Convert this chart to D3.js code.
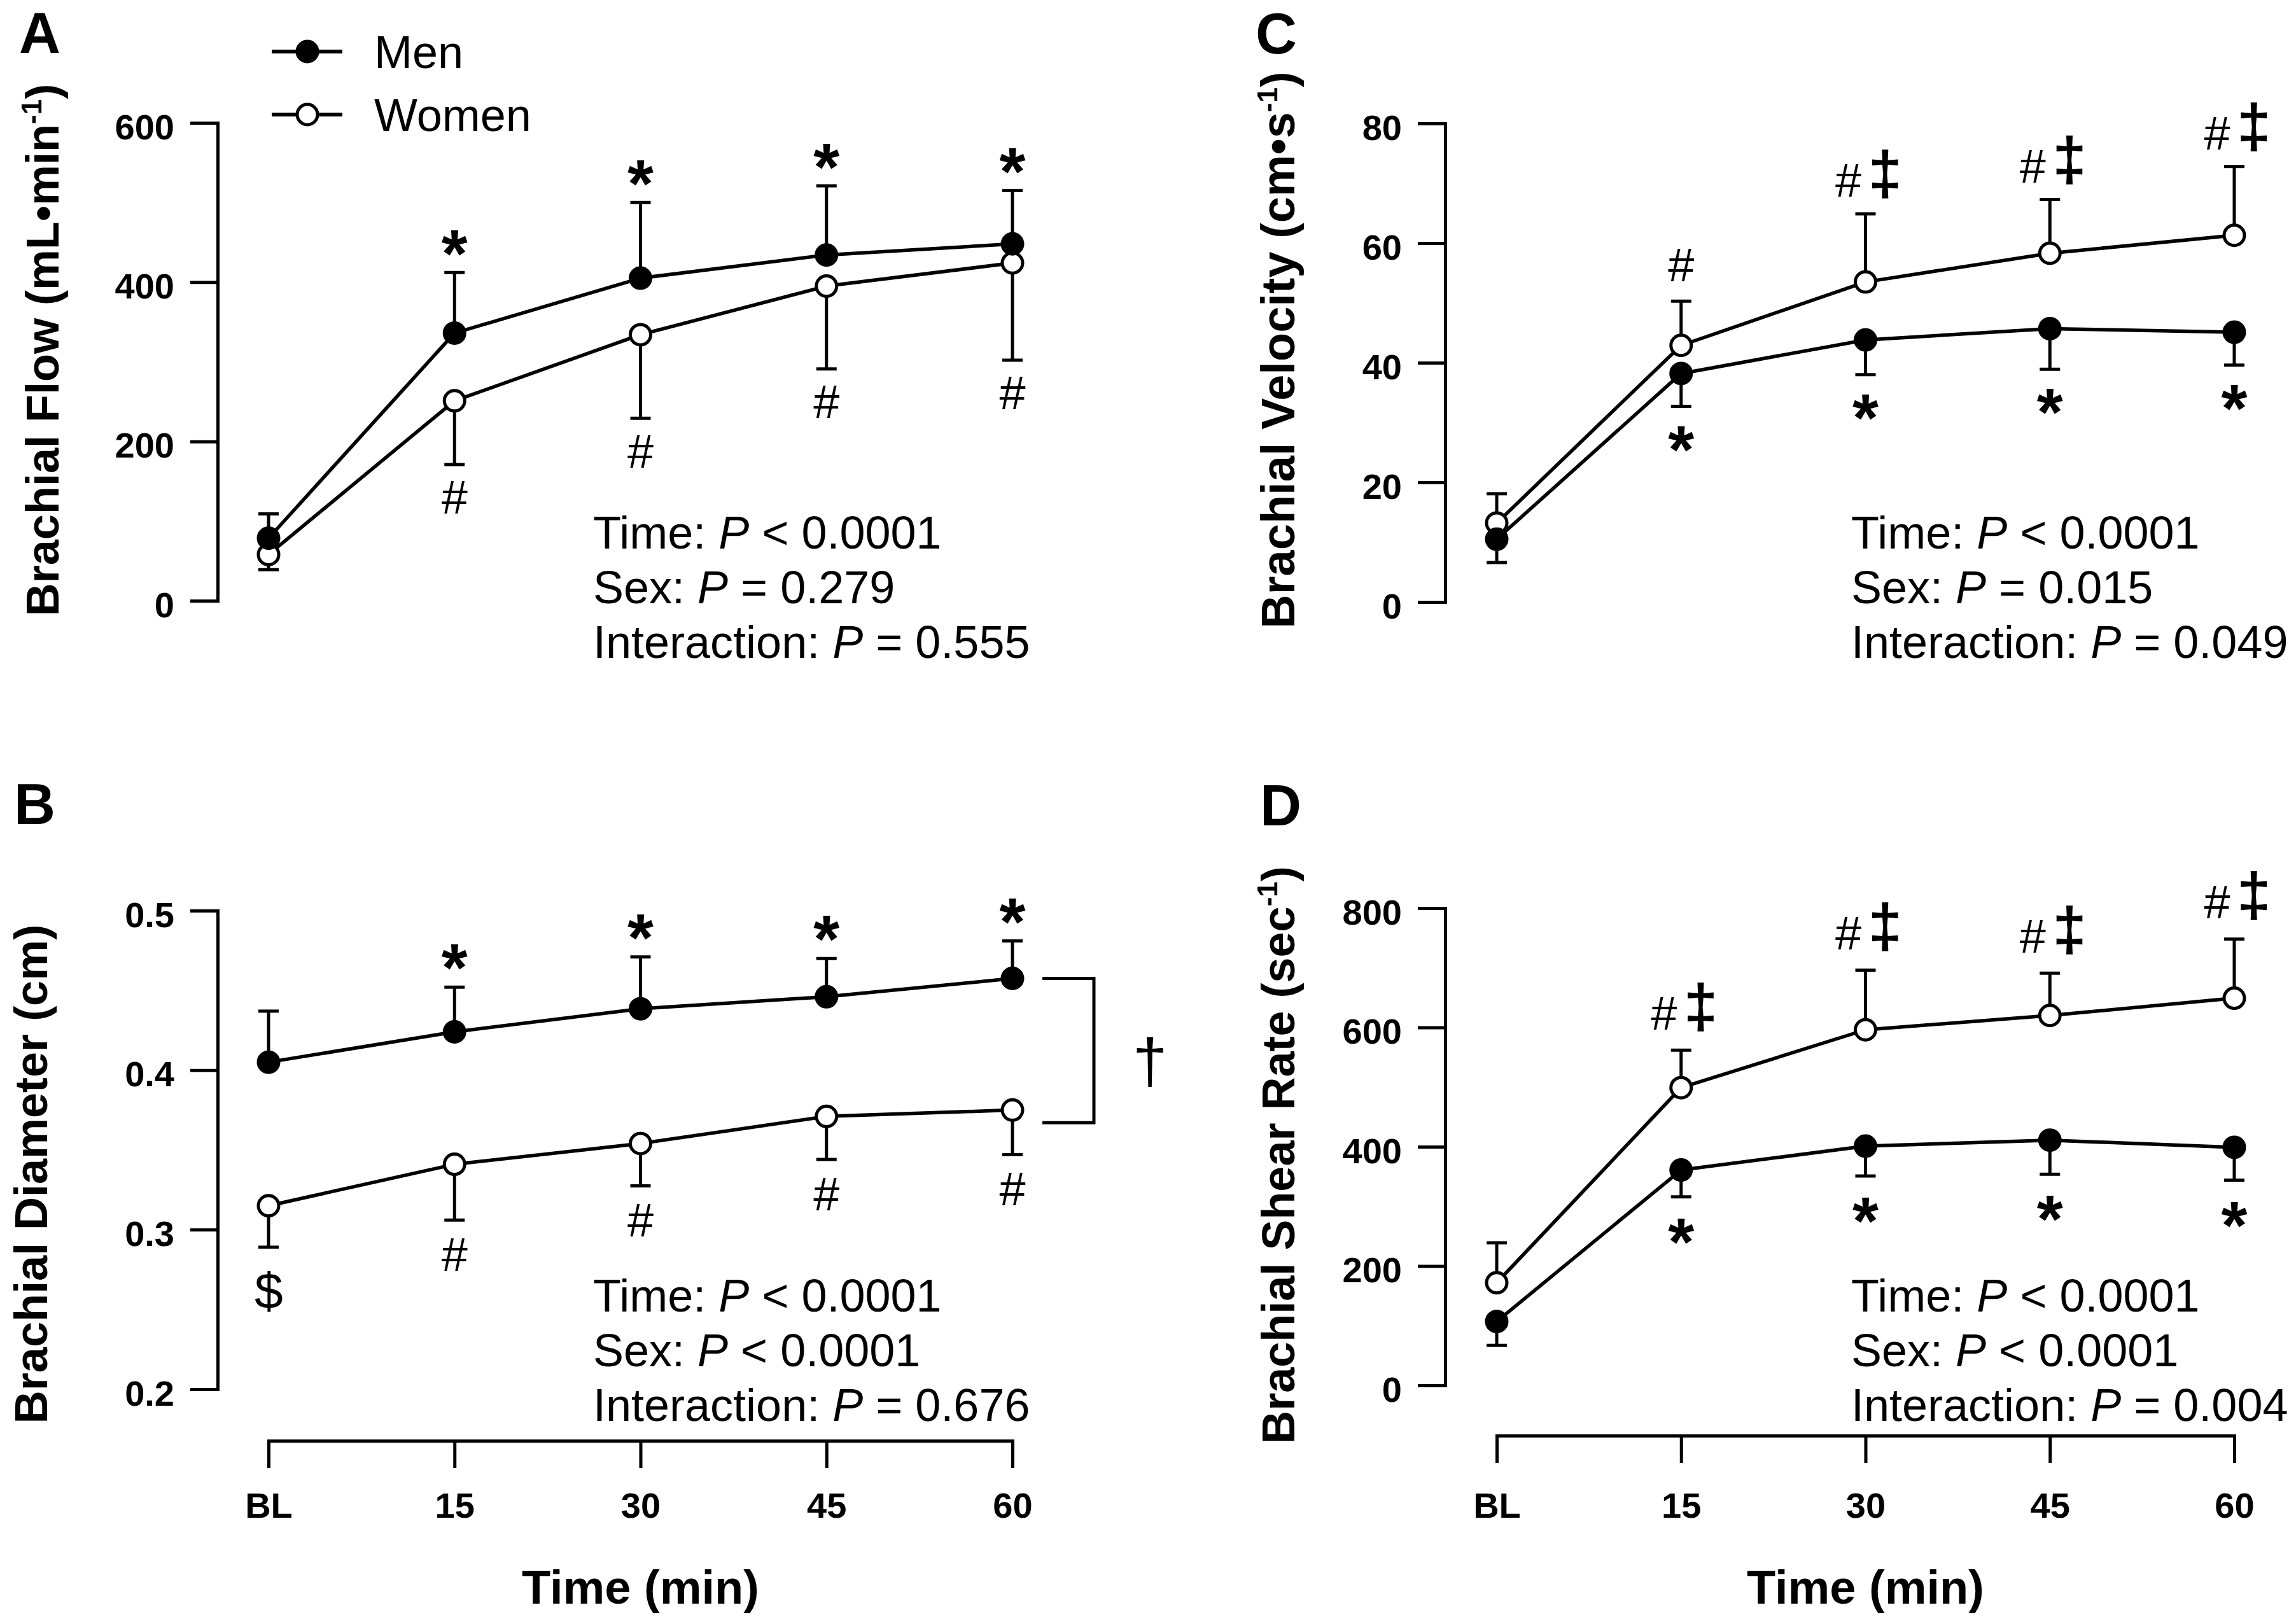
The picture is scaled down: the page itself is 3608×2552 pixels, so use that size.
<!DOCTYPE html>
<html>
<head>
<meta charset="utf-8">
<script src="https://cdn.jsdelivr.net/npm/d3@7/dist/d3.min.js"></script>
<style>
  html, body { margin: 0; padding: 0; background: #fff; }
  svg { display: block; }
  text { font-family: "Liberation Sans", Arial, Helvetica, sans-serif; fill: #000; }
</style>
</head>
<body>
<script>
// ---------------- DATA ----------------
const categories = ["BL", "15", "30", "45", "60"];

// Panel A: Brachial Flow (mL·min-1)
const flowMen = [78.5, 336, 405, 434, 448];
const flowMenErr = [30.5, 76, 95, 87, 67];
const flowWomen = [58, 251, 334, 395, 424];
const flowWomenErr = [19, 80, 105, 104, 122];
const flowTicks = [0, 200, 400, 600];
const flowAnnMen = ["", "*", "*", "*", "*"];
const flowAnnWomen = ["", "#", "#", "#", "#"];
const flowStats = [["Time: ", "P", " < 0.0001"], ["Sex: ", "P", " = 0.279"], ["Interaction: ", "P", " = 0.555"]];

// Panel B: Brachial Diameter (cm)
const diamMen = [0.405, 0.424, 0.4385, 0.446, 0.4575];
const diamMenErr = [0.032, 0.028, 0.0325, 0.024, 0.0235];
const diamWomen = [0.315, 0.341, 0.354, 0.371, 0.375];
const diamWomenErr = [0.026, 0.035, 0.0265, 0.027, 0.028];
const diamTicks = [0.2, 0.3, 0.4, 0.5];
const diamAnnMen = ["", "*", "*", "*", "*"];
const diamAnnWomen = ["$", "#", "#", "#", "#"];
const diamStats = [["Time: ", "P", " < 0.0001"], ["Sex: ", "P", " < 0.0001"], ["Interaction: ", "P", " = 0.676"]];

// Panel C: Brachial Velocity (cm·s-1)
const velMen = [10.5, 38.2, 43.8, 45.7, 45.1];
const velMenErr = [3.9, 5.5, 5.8, 6.8, 5.5];
const velWomen = [13.2, 42.9, 53.5, 58.3, 61.3];
const velWomenErr = [4.9, 7.4, 11.4, 9.0, 11.5];
const velTicks = [0, 20, 40, 60, 80];
const velAnnMen = ["", "*", "*", "*", "*"];
const velAnnWomen = ["", "#", "#‡", "#‡", "#‡"];
const velStats = [["Time: ", "P", " < 0.0001"], ["Sex: ", "P", " = 0.015"], ["Interaction: ", "P", " = 0.049"]];

// Panel D: Brachial Shear Rate (sec-1)
const shearMen = [107, 361, 401, 411, 399];
const shearMenErr = [40, 45, 50, 57, 55];
const shearWomen = [172, 499, 596, 620, 649];
const shearWomenErr = [67, 63, 100, 71, 99];
const shearTicks = [0, 200, 400, 600, 800];
const shearAnnMen = ["", "*", "*", "*", "*"];
const shearAnnWomen = ["", "#‡", "#‡", "#‡", "#‡"];
const shearStats = [["Time: ", "P", " < 0.0001"], ["Sex: ", "P", " < 0.0001"], ["Interaction: ", "P", " = 0.004"]];

const legendLabels = ["Men", "Women"];

// ---------------- DRAWING ----------------
const W = 3608, H = 2552;
const FONT = '"Liberation Sans", Arial, Helvetica, sans-serif';
const svg = d3.select("body").append("svg").attr("width", W).attr("height", H);
svg.append("rect").attr("width", W).attr("height", H).attr("fill", "#fff");

const ctx = document.createElement("canvas").getContext("2d");
function measure(str, size, weight, style) {
  ctx.font = `${style || "normal"} ${weight} ${size}px ${FONT}`;
  return ctx.measureText(str);
}
// draw a glyph whose ink box is centered at (cx, cy) with given ink height
function inkGlyph(g, str, cx, cy, inkH, weight) {
  const m0 = measure(str, 100, weight);
  const h0 = m0.actualBoundingBoxAscent + m0.actualBoundingBoxDescent;
  const size = 100 * inkH / h0;
  const m = measure(str, size, weight);
  const base = cy + (m.actualBoundingBoxAscent - m.actualBoundingBoxDescent) / 2;
  const startX = cx - (m.actualBoundingBoxRight - m.actualBoundingBoxLeft) / 2;
  g.append("text").attr("x", startX).attr("y", base)
    .attr("font-size", size).attr("font-weight", weight).text(str);
}

const SW = 5;
const R = 16;
const CAP = 16;

function drawPanel(o) {
  const g = svg.append("g");
  const x = d3.scalePoint().domain(categories).range(o.xRange);
  const y = d3.scaleLinear().domain(o.yDomain).range(o.yRange);

  // y axis
  const ya = g.append("g").attr("transform", `translate(${o.axisX},0)`)
    .call(d3.axisLeft(y).tickValues(o.ticks).tickSize(43).tickSizeOuter(0).tickPadding(25).tickFormat(o.fmt));
  ya.select(".domain").attr("stroke", "#000").attr("stroke-width", SW).attr("stroke-linecap", "square");
  ya.selectAll(".tick line").attr("stroke", "#000").attr("stroke-width", SW);
  ya.selectAll(".tick text").attr("font-size", 56).attr("font-weight", "bold")
    .attr("font-family", FONT).attr("dy", "0.45em").attr("fill", "#000");

  // x axis
  if (o.xAxisY != null) {
    const pad = 2385 - o.xAxisY - 43 - 0.71 * 56;
    const xa = g.append("g").attr("transform", `translate(0,${o.xAxisY})`)
      .call(d3.axisBottom(x).tickSize(43).tickSizeOuter(0).tickPadding(pad));
    xa.select(".domain").attr("stroke", "#000").attr("stroke-width", SW).attr("stroke-linecap", "square");
    xa.selectAll(".tick line").attr("stroke", "#000").attr("stroke-width", SW);
    xa.selectAll(".tick text").attr("font-size", 56).attr("font-weight", "bold")
      .attr("font-family", FONT).attr("fill", "#000");
    g.append("text").attr("x", (o.xRange[0] + o.xRange[1]) / 2).attr("y", 2520)
      .attr("text-anchor", "middle").attr("font-size", 74).attr("font-weight", "bold")
      .text("Time (min)");
  }

  // y title
  const t = g.append("text").attr("transform", `translate(${o.titleX},${o.titleY}) rotate(-90)`)
    .attr("text-anchor", "middle").attr("font-size", o.titleSize || 72).attr("font-weight", "bold");
  t.append("tspan").text(o.title[0]);
  if (o.title[1]) {
    t.append("tspan").attr("font-size", 44).attr("dy", -27).text(o.title[1]);
    t.append("tspan").attr("font-size", o.titleSize || 72).attr("dy", 27).text(o.title[2]);
  }

  // panel letter
  g.append("text").attr("x", o.letterX).attr("y", o.letterY).attr("font-size", 90)
    .attr("font-weight", "bold").text(o.letter);

  const series = [
    { v: o.women, e: o.womenErr, dir: o.womenDir, fill: "#fff" },
    { v: o.men, e: o.menErr, dir: o.menDir, fill: "#000" }
  ];
  // error bars
  series.forEach(s => {
    s.v.forEach((v, i) => {
      const cx = x(categories[i]);
      const yEnd = y(v + s.dir * s.e[i]);
      g.append("line").attr("x1", cx).attr("x2", cx).attr("y1", y(v)).attr("y2", yEnd)
        .attr("stroke", "#000").attr("stroke-width", SW);
      g.append("line").attr("x1", cx - CAP).attr("x2", cx + CAP).attr("y1", yEnd).attr("y2", yEnd)
        .attr("stroke", "#000").attr("stroke-width", SW);
    });
  });
  // lines
  const line = d3.line().x((d, i) => x(categories[i])).y(d => y(d));
  series.forEach(s => {
    g.append("path").attr("d", line(s.v)).attr("fill", "none")
      .attr("stroke", "#000").attr("stroke-width", 5.5).attr("stroke-linejoin", "round");
  });
  // markers
  series.forEach(s => {
    s.v.forEach((v, i) => {
      g.append("circle").attr("cx", x(categories[i])).attr("cy", y(v)).attr("r", R)
        .attr("fill", s.fill).attr("stroke", "#000").attr("stroke-width", SW);
    });
  });

  // annotations
  const annSets = [
    { ann: o.annMen, v: o.men, e: o.menErr, dir: o.menDir },
    { ann: o.annWomen, v: o.women, e: o.womenErr, dir: o.womenDir }
  ];
  annSets.forEach(a => {
    a.ann.forEach((str, i) => {
      if (!str) return;
      const cx = x(categories[i]);
      const yEnd = y(a.v[i] + a.dir * a.e[i]);
      const up = a.dir > 0 ? -1 : 1;
      if (str === "*") {
        inkGlyph(g, "*", cx, yEnd + up * o.offStar, 40, "bold");
      } else if (str === "#") {
        inkGlyph(g, "#", cx, yEnd + up * o.offHash1, 51, "normal");
      } else if (str === "$") {
        inkGlyph(g, "$", cx, yEnd + up * 70, 66, "normal");
      } else if (str === "#‡") {
        inkGlyph(g, "#", cx - 27, yEnd + up * o.offHash, 51, "normal");
        inkGlyph(g, "‡", cx + 31, yEnd + up * o.offDdag, 77, "bold");
      }
    });
  });

  // stats
  o.stats.forEach((row, k) => {
    const tx = g.append("text").attr("x", o.statsX).attr("y", o.statsY + k * 86).attr("font-size", 72);
    tx.append("tspan").text(row[0]);
    tx.append("tspan").attr("font-style", "italic").text(row[1]);
    tx.append("tspan").text(row[2]);
  });

  return { g, x, y };
}

// Panel A
drawPanel({
  letter: "A", letterX: 30, letterY: 83,
  xRange: [422, 1591], yDomain: [0, 600], yRange: [944, 193], axisX: 342,
  ticks: flowTicks, fmt: d3.format("d"),
  title: ["Brachial Flow (mL•min", "-1", ")"], titleX: 92, titleY: 550,
  men: flowMen, menErr: flowMenErr, menDir: 1,
  women: flowWomen, womenErr: flowWomenErr, womenDir: -1,
  annMen: flowAnnMen, annWomen: flowAnnWomen,
  offStar: 46, offHash1: 52, offHash: 52, offDdag: 62,
  stats: flowStats, statsX: 932, statsY: 862, xAxisY: null
});

// Panel B
const pB = drawPanel({
  letter: "B", letterX: 22, letterY: 1295,
  xRange: [422, 1591], yDomain: [0.2, 0.5], yRange: [2183, 1431], axisX: 342,
  ticks: diamTicks, fmt: d3.format(".1f"),
  title: ["Brachial Diameter (cm)"], titleX: 74, titleY: 1845,
  men: diamMen, menErr: diamMenErr, menDir: 1,
  women: diamWomen, womenErr: diamWomenErr, womenDir: -1,
  annMen: diamAnnMen, annWomen: diamAnnWomen,
  offStar: 47, offHash1: 54, offHash: 54, offDdag: 62,
  stats: diamStats, statsX: 932, statsY: 2061, xAxisY: 2264
});
// significance bracket between sexes at 60 min
{
  const x60 = pB.x(categories[4]);
  const yTop = pB.y(diamMen[4]);
  const yBot = pB.y(diamWomen[4]) + 20;
  pB.g.append("path")
    .attr("d", `M${x60 + 47},${yTop}H${x60 + 128}V${yBot}H${x60 + 47}`)
    .attr("fill", "none").attr("stroke", "#000").attr("stroke-width", SW);
  inkGlyph(pB.g, "†", x60 + 216, (yTop + yBot) / 2 + 18, 78, "normal");
}

// Panel C
drawPanel({
  letter: "C", letterX: 1973, letterY: 84,
  xRange: [2352, 3511], yDomain: [0, 80], yRange: [946, 194], axisX: 2271,
  ticks: velTicks, fmt: d3.format("d"),
  title: ["Brachial Velocity (cm•s", "-1", ")"], titleX: 2034, titleY: 550, titleSize: 74,
  men: velMen, menErr: velMenErr, menDir: -1,
  women: velWomen, womenErr: velWomenErr, womenDir: 1,
  annMen: velAnnMen, annWomen: velAnnWomen,
  offStar: 51, offHash1: 57, offHash: 52, offDdag: 62,
  stats: velStats, statsX: 2909, statsY: 862, xAxisY: null
});

// Panel D
drawPanel({
  letter: "D", letterX: 1980, letterY: 1297,
  xRange: [2352, 3511], yDomain: [0, 800], yRange: [2177, 1427], axisX: 2271,
  ticks: shearTicks, fmt: d3.format("d"),
  title: ["Brachial Shear Rate (sec", "-1", ")"], titleX: 2034, titleY: 1815,
  men: shearMen, menErr: shearMenErr, menDir: -1,
  women: shearWomen, womenErr: shearWomenErr, womenDir: 1,
  annMen: shearAnnMen, annWomen: shearAnnWomen,
  offStar: 54, offHash1: 58, offHash: 58, offDdag: 68,
  stats: shearStats, statsX: 2909, statsY: 2061, xAxisY: 2256
});

// Legend
const leg = svg.append("g");
legendLabels.forEach((lab, i) => {
  const ly = [81, 180][i];
  leg.append("line").attr("x1", 427).attr("x2", 538).attr("y1", ly).attr("y2", ly)
    .attr("stroke", "#000").attr("stroke-width", 6);
  leg.append("circle").attr("cx", 483).attr("cy", ly).attr("r", R)
    .attr("fill", i === 0 ? "#000" : "#fff").attr("stroke", "#000").attr("stroke-width", SW);
  leg.append("text").attr("x", 588).attr("y", ly + 26).attr("font-size", 72).text(lab);
});
</script>
</body>
</html>
